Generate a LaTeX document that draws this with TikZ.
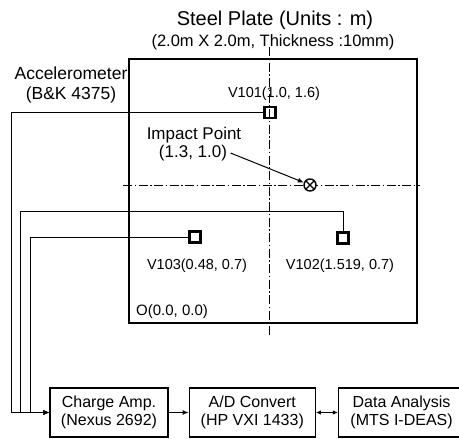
\documentclass[tikz,border=0pt]{standalone}
\usepackage{fontspec}
\setmainfont{Liberation Sans}
\usetikzlibrary{arrows.meta, positioning}

\begin{document}
\begin{tikzpicture}[
  x=1pt, y=-1pt,
  box/.style={rectangle, draw, line width=1.3pt, minimum height=49pt,
              inner sep=0pt, align=center, font=\fontsize{16}{18}\selectfont},
  sensor/.style={rectangle, draw, line width=2.2pt, minimum size=11pt, inner sep=0pt},
  lbl/.style={font=\fontsize{14.5}{17}\selectfont, inner sep=0pt},
  wire/.style={line width=0.8pt, -{Latex[length=6pt,width=5pt]}},
  axisline/.style={line width=0.8pt, dash pattern=on 9pt off 2.5pt on 1.5pt off 2.5pt},
  arr/.style={line width=1pt, -{Latex[length=6pt,width=5pt]}},
  node distance=20pt,
]
  \useasboundingbox (0,0) rectangle (459,439);
  \clip (0,0) rectangle (459,439);

  % title
  \node[font=\fontsize{20}{24}\selectfont] (title) at (275,20) {Steel Plate (Units : m)};
  \node[font=\fontsize{16.5}{20}\selectfont] (size) at (273,42) {(2.0m X 2.0m, Thickness :10mm)};

  % plate and center lines
  \node[draw, line width=1.6pt, minimum width=288pt, minimum height=264pt, inner sep=0pt]
    (plate) at (273,191) {};
  \draw[axisline] (269,47) -- (269,336);
  \draw[axisline] (123,185) -- (420,185);

  % accelerometers
  \node[sensor] (v101) at (270,112.5) {};
  \node[sensor] (v102) at (343,238) {};
  \node[sensor] (v103) at (195,237) {};
  \node[lbl] (v101l) at (274,94) {V101(1.0, 1.6)};
  \node[lbl] (v103l) at (197,266) {V103(0.48, 0.7)};
  \node[lbl] (v102l) at (340,266) {V102(1.519, 0.7)};
  \node[lbl, font=\fontsize{15}{18}\selectfont, anchor=west] (orig) at (136,312) {O(0.0, 0.0)};

  \node[align=center, font=\fontsize{17.5}{20}\selectfont] (accel) at (71,85)
    {Accelerometer\\(B\&K 4375)};

  % impact point
  \node[circle, draw, line width=1.4pt, minimum size=12pt, inner sep=0pt, fill=white]
    (imp) at (310,185) {};
  \draw[line width=1.2pt] (imp.45) -- (imp.225) (imp.135) -- (imp.315);
  \node[font=\fontsize{17}{20}\selectfont] (imptxt) at (194,135) {Impact Point};
  \node[font=\fontsize{17}{20}\selectfont] (impxy) at (193,153) {(1.3, 1.0)};
  \draw[arr] (impxy.east) -- (imp);

  % measurement chain
  \node[box, minimum width=118pt] (amp) at (109,412.5) {Charge Amp.\\(Nexus 2692)};
  \node[box, minimum width=126pt, right=20pt of amp] (adc) {A/D Convert\\(HP VXI 1433)};
  \node[box, minimum width=126pt, right=22pt of adc] (data) {Data Analysis\\(MTS I-DEAS)};

  \coordinate (busA) at (11,0);
  \coordinate (busC) at (30,0);
  \coordinate (railB) at (20,211);

  \draw[wire] (v101.west) -- (v101.west -| busA) |- (amp.west);
  \draw[wire] (v102.north) |- (railB) |- (amp.west);
  \draw[wire] (v103.west) -- (v103.west -| busC) |- (amp.west);

  \draw[arr] (amp) -- (adc);
  \draw[line width=1pt, {Latex[length=5pt,width=4.5pt]}-{Latex[length=5pt,width=4.5pt]}] (adc) -- (data);
\end{tikzpicture}
\end{document}
